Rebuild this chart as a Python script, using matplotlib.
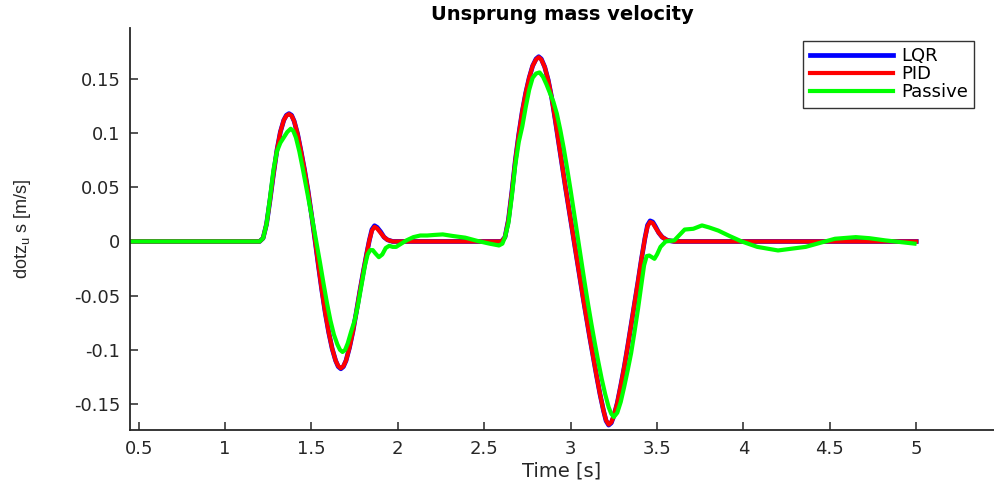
import matplotlib
matplotlib.use("Agg")
import matplotlib.pyplot as plt

# ---------------- data ----------------
t_ctrl = [0.0, 1.20, 1.22, 1.24, 1.26, 1.28, 1.30, 1.32, 1.34, 1.355, 1.37, 1.385, 1.40,
          1.42, 1.44, 1.46, 1.48, 1.50, 1.52, 1.54, 1.56, 1.58, 1.60, 1.62, 1.64, 1.655,
          1.67, 1.685, 1.70, 1.72, 1.74, 1.76, 1.78, 1.80, 1.82, 1.835, 1.85, 1.865, 1.88,
          1.90, 1.92, 1.94, 1.97,
          2.60, 2.62, 2.64, 2.66, 2.68, 2.70, 2.72, 2.74, 2.76, 2.78, 2.80, 2.815, 2.83,
          2.85, 2.87, 2.89, 2.91, 2.93, 2.95, 2.97, 2.99, 3.01, 3.03, 3.05, 3.07, 3.09,
          3.11, 3.13, 3.15, 3.17, 3.19, 3.205, 3.22, 3.235, 3.25, 3.27, 3.29, 3.31, 3.33,
          3.35, 3.37, 3.39, 3.41, 3.43, 3.445, 3.46, 3.475, 3.49, 3.51, 3.53, 3.56, 3.60,
          5.0]
pid_vel = [0.0, 0.0, 0.003, 0.016, 0.038, 0.062, 0.084, 0.101, 0.112, 0.116, 0.1175, 0.116, 0.111,
           0.099, 0.083, 0.066, 0.047, 0.025, 0.002, -0.022, -0.045, -0.066, -0.084, -0.099, -0.110, -0.115,
           -0.117, -0.115, -0.110, -0.098, -0.083, -0.065, -0.046, -0.028, -0.011, 0.001, 0.010, 0.0135, 0.012,
           0.008, 0.004, 0.0015, 0.0,
           0.0, 0.004, 0.020, 0.046, 0.075, 0.099, 0.120, 0.137, 0.151, 0.162, 0.168, 0.170, 0.168,
           0.161, 0.149, 0.133, 0.113, 0.092, 0.071, 0.050, 0.030, 0.010, -0.010, -0.030, -0.050, -0.069,
           -0.088, -0.106, -0.124, -0.141, -0.156, -0.165, -0.169, -0.167, -0.161, -0.149, -0.133, -0.116, -0.097,
           -0.077, -0.057, -0.037, -0.016, 0.003, 0.014, 0.018, 0.017, 0.013, 0.008, 0.004, 0.001, 0.0,
           0.0]
lqr_vel = [0.0, 0.0, 0.003, 0.016, 0.038, 0.062, 0.084, 0.101, 0.112, 0.1165, 0.118, 0.1165, 0.111,
           0.099, 0.083, 0.066, 0.047, 0.025, 0.002, -0.022, -0.045, -0.066, -0.084, -0.099, -0.110, -0.1155,
           -0.1175, -0.1155, -0.110, -0.098, -0.083, -0.065, -0.046, -0.028, -0.011, 0.001, 0.011, 0.0145, 0.013,
           0.009, 0.004, 0.0015, 0.0,
           0.0, 0.004, 0.020, 0.046, 0.075, 0.099, 0.120, 0.137, 0.151, 0.162, 0.1685, 0.1705, 0.1685,
           0.161, 0.149, 0.133, 0.113, 0.092, 0.071, 0.050, 0.030, 0.010, -0.010, -0.030, -0.050, -0.069,
           -0.088, -0.106, -0.124, -0.141, -0.156, -0.1655, -0.1695, -0.1675, -0.161, -0.149, -0.133, -0.116, -0.097,
           -0.077, -0.057, -0.037, -0.016, 0.003, 0.015, 0.019, 0.018, 0.014, 0.008, 0.004, 0.001, 0.0,
           0.0]

t_pass = [0.0, 1.20, 1.22, 1.24, 1.26, 1.28, 1.30, 1.32, 1.34, 1.36, 1.38, 1.395, 1.41,
          1.43, 1.45, 1.47, 1.49, 1.51, 1.53, 1.55, 1.57, 1.59, 1.61, 1.63, 1.65, 1.665,
          1.68, 1.695, 1.71, 1.73, 1.75, 1.77, 1.79, 1.81, 1.825, 1.84, 1.855, 1.87, 1.89,
          1.91, 1.93, 1.95, 1.97, 1.99, 2.02, 2.05, 2.09, 2.13, 2.17, 2.21, 2.26, 2.32,
          2.39, 2.46, 2.53, 2.585, 2.605, 2.62, 2.64, 2.66, 2.68, 2.70, 2.72, 2.74, 2.76,
          2.78, 2.80, 2.82, 2.84, 2.86, 2.88, 2.90, 2.92, 2.94, 2.96, 2.98, 3.00, 3.02,
          3.04, 3.06, 3.08, 3.10, 3.12, 3.14, 3.16, 3.18, 3.20, 3.22, 3.235, 3.25, 3.27,
          3.29, 3.31, 3.33, 3.35, 3.37, 3.39, 3.41, 3.425, 3.44, 3.455, 3.47, 3.485, 3.50,
          3.52, 3.55, 3.60, 3.63, 3.66, 3.71, 3.76, 3.80, 3.855, 3.92, 3.99, 4.08, 4.20,
          4.36, 4.45, 4.53, 4.65, 4.73, 4.82, 4.99]
passive_vel = [0.0, 0.0, 0.003, 0.016, 0.040, 0.066, 0.083, 0.091, 0.096, 0.101, 0.104, 0.102, 0.096,
               0.083, 0.067, 0.050, 0.033, 0.016, -0.002, -0.020, -0.039, -0.057, -0.073, -0.086, -0.095, -0.100,
               -0.102, -0.100, -0.094, -0.083, -0.073, -0.058, -0.040, -0.022, -0.012, -0.008, -0.008, -0.011, -0.0145,
               -0.012, -0.006, -0.004, -0.005, -0.005, -0.002, 0.001, 0.004, 0.0055, 0.0055, 0.006, 0.0065, 0.005,
               0.0035, 0.0005, -0.002, -0.0037, -0.002, 0.004, 0.017, 0.042, 0.071, 0.092, 0.106, 0.124, 0.140,
               0.151, 0.155, 0.156, 0.152, 0.145, 0.137, 0.129, 0.118, 0.103, 0.086, 0.067, 0.047, 0.026,
               0.005, -0.016, -0.037, -0.057, -0.076, -0.094, -0.111, -0.127, -0.141, -0.153, -0.159, -0.162, -0.158,
               -0.148, -0.134, -0.119, -0.103, -0.083, -0.062, -0.039, -0.022, -0.0135, -0.013, -0.0145, -0.016, -0.012,
               -0.005, 0.000, 0.001, 0.006, 0.011, 0.0117, 0.0148, 0.013, 0.010, 0.005, 0.000, -0.005, -0.0083,
               -0.005, -0.001, 0.0025, 0.004, 0.003, 0.001, -0.002]

x_ticks = [0.5, 1, 1.5, 2, 2.5, 3, 3.5, 4, 4.5, 5]
x_tick_labels = ["0.5", "1", "1.5", "2", "2.5", "3", "3.5", "4", "4.5", "5"]
y_ticks = [-0.15, -0.1, -0.05, 0, 0.05, 0.1, 0.15]
y_tick_labels = ["-0.15", "-0.1", "-0.05", "0", "0.05", "0.1", "0.15"]

# ---------------- figure ----------------
fig = plt.figure(figsize=(9.94, 4.82), dpi=100)
ax = fig.add_axes([0.1308, 0.1079, 0.8692, 0.834])

ax.plot(t_ctrl, lqr_vel, color=(0, 0, 1), lw=3.4, label="LQR")
ax.plot(t_ctrl, pid_vel, color=(1, 0, 0), lw=3.0, label="PID")
ax.plot(t_pass, passive_vel, color=(0, 1, 0), lw=3.0, label="Passive")

ax.set_xlim(0.45, 5.45)
ax.set_ylim(-0.174, 0.197)
ax.set_xticks(x_ticks)
ax.set_xticklabels(x_tick_labels)
ax.set_yticks(y_ticks)
ax.set_yticklabels(y_tick_labels)

dark = "#262626"
for s in ["top", "right"]:
    ax.spines[s].set_visible(False)
for s in ["left", "bottom"]:
    ax.spines[s].set_color(dark)
    ax.spines[s].set_linewidth(1.3)
ax.tick_params(direction="in", length=6, width=1.1, colors=dark, labelsize=13, pad=7)
for lab in ax.get_xticklabels() + ax.get_yticklabels():
    lab.set_family("DejaVu Sans")

ax.set_title("Unsprung mass velocity", fontsize=14, fontweight="bold", family="DejaVu Sans", pad=6)
ax.set_xlabel("Time [s]", fontsize=14, color=dark, family="DejaVu Sans", labelpad=3)
ax.set_ylabel(r"dotz$_{\mathregular{u}}$ s [m/s]", fontsize=13, color=dark,
              family="Liberation Sans")
ax.yaxis.set_label_coords(-0.112, 0.5)

leg = ax.legend(loc="upper right", bbox_to_anchor=(0.980, 0.915), bbox_transform=fig.transFigure,
                borderaxespad=0, handlelength=4.6, handletextpad=0.45,
                labelspacing=0.0, borderpad=0.35, fancybox=False, framealpha=1,
                edgecolor="#333333", prop={"family": "DejaVu Sans", "size": 13})
leg.get_frame().set_linewidth(1.0)

fig.savefig("out.png", dpi=100)
